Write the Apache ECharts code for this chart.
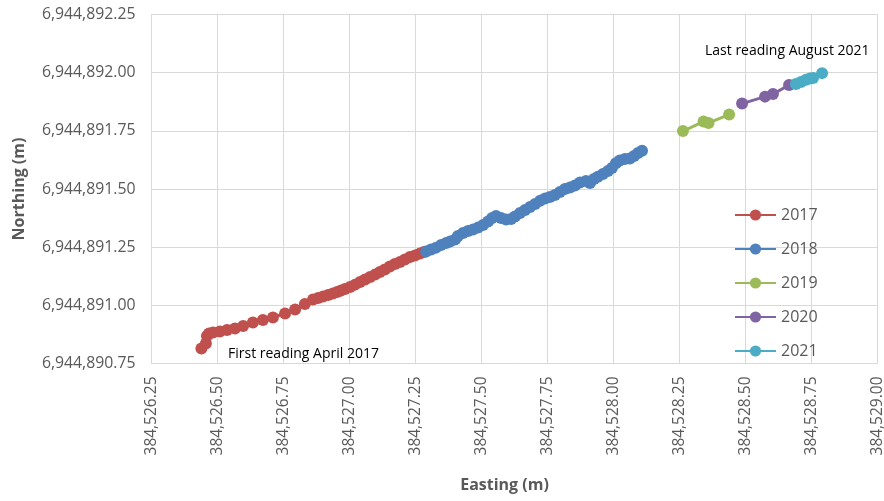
<!DOCTYPE html>
<html>
<head>
<meta charset="utf-8">
<script src="https://cdn.jsdelivr.net/npm/echarts@6/dist/echarts.min.js"></script>
<style>html,body{margin:0;padding:0;background:#fff}#c{width:884px;height:501px}</style>
</head>
<body>
<div id="c"></div>
<script>
// Easting (m) / Northing (m) per year
var e2017 = [384526.439, 384526.456, 384526.460, 384526.468, 384526.483, 384526.509, 384526.536, 384526.566, 384526.597, 384526.634, 384526.672, 384526.710, 384526.756, 384526.794, 384526.831, 384526.862, 384526.881, 384526.900, 384526.919, 384526.937, 384526.953, 384526.968, 384526.983, 384527.002, 384527.021, 384527.040, 384527.059, 384527.078, 384527.097, 384527.115, 384527.134, 384527.153, 384527.172, 384527.191, 384527.210, 384527.229, 384527.248, 384527.267, 384527.282];
var n2017 = [6944890.814, 6944890.836, 6944890.868, 6944890.879, 6944890.883, 6944890.888, 6944890.894, 6944890.900, 6944890.911, 6944890.926, 6944890.937, 6944890.948, 6944890.965, 6944890.982, 6944891.006, 6944891.025, 6944891.031, 6944891.038, 6944891.044, 6944891.051, 6944891.057, 6944891.064, 6944891.070, 6944891.079, 6944891.089, 6944891.100, 6944891.111, 6944891.122, 6944891.132, 6944891.143, 6944891.154, 6944891.167, 6944891.178, 6944891.186, 6944891.197, 6944891.208, 6944891.214, 6944891.223, 6944891.229];

var e2018 = [384527.290, 384527.309, 384527.328, 384527.347, 384527.366, 384527.381, 384527.400, 384527.411, 384527.430, 384527.449, 384527.468, 384527.487, 384527.506, 384527.525, 384527.540, 384527.555, 384527.574, 384527.593, 384527.612, 384527.627, 384527.646, 384527.665, 384527.684, 384527.703, 384527.722, 384527.741, 384527.759, 384527.778, 384527.797, 384527.816, 384527.835, 384527.854, 384527.873, 384527.896, 384527.911, 384527.926, 384527.941, 384527.960, 384527.979, 384527.994, 384528.009, 384528.024, 384528.043, 384528.062, 384528.078, 384528.093, 384528.108];
var n2018 = [6944891.231, 6944891.240, 6944891.248, 6944891.259, 6944891.268, 6944891.274, 6944891.283, 6944891.298, 6944891.311, 6944891.319, 6944891.326, 6944891.334, 6944891.345, 6944891.360, 6944891.375, 6944891.384, 6944891.375, 6944891.369, 6944891.371, 6944891.382, 6944891.397, 6944891.410, 6944891.423, 6944891.436, 6944891.450, 6944891.459, 6944891.466, 6944891.474, 6944891.487, 6944891.500, 6944891.506, 6944891.515, 6944891.528, 6944891.534, 6944891.526, 6944891.543, 6944891.553, 6944891.564, 6944891.577, 6944891.590, 6944891.611, 6944891.622, 6944891.629, 6944891.631, 6944891.642, 6944891.655, 6944891.664];

var e2019 = [384528.263, 384528.341, 384528.360, 384528.438];
var n2019 = [6944891.749, 6944891.790, 6944891.784, 6944891.820];

var e2020 = [384528.487, 384528.574, 384528.604, 384528.665];
var n2020 = [6944891.867, 6944891.897, 6944891.908, 6944891.947];

var e2021 = [384528.691, 384528.710, 384528.729, 384528.744, 384528.756, 384528.790];
var n2021 = [6944891.951, 6944891.960, 6944891.970, 6944891.975, 6944891.977, 6944891.998];

var years = ['2017', '2018', '2019', '2020', '2021'];
var colors = ['#C0504D', '#4F81BD', '#9BBB59', '#8064A2', '#4BACC6'];
var eastings = [e2017, e2018, e2019, e2020, e2021];
var northings = [n2017, n2018, n2019, n2020, n2021];

var xMin = 384526.25, xMax = 384529.00, xStep = 0.25;
var yMin = 6944890.75, yMax = 6944892.25, yStep = 0.25;

var xTitle = 'Easting (m)';
var yTitle = 'Northing (m)';
var noteFirst = 'First reading April 2017';
var noteLast = 'Last reading August 2021';

function fmt(v) {
  return Number(v).toFixed(2).replace(/\B(?=(\d{3})+(?!\d))/g, ',');
}

var FONT = '"Open Sans", "Noto Sans", sans-serif';

var series = years.map(function (y, i) {
  return {
    name: y,
    type: 'line',
    symbol: 'circle',
    symbolSize: 12,
    showSymbol: true,
    color: colors[i],
    lineStyle: { width: 3, color: colors[i] },
    itemStyle: { color: colors[i] },
    data: eastings[i].map(function (e, k) { return [e, northings[i][k]]; }),
    animation: false,
    z: 2 + i
  };
});

var chart = echarts.init(document.getElementById('c'), null, { renderer: 'canvas' });
chart.setOption({
  animation: false,
  backgroundColor: '#fff',
  grid: { left: 151.5, right: 6.5, top: 14.5, bottom: 137.5, containLabel: false, outerBoundsMode: 'none' },
  legend: {
    orient: 'vertical',
    left: 729, top: 202,
    itemWidth: 41, itemHeight: 14, itemGap: 18,
    data: years,
    textStyle: { fontFamily: FONT, fontSize: 16, color: '#595959' }
  },
  xAxis: {
    type: 'value',
    min: xMin, max: xMax, interval: xStep,
    name: xTitle,
    nameLocation: 'middle',
    nameGap: 114,
    nameTextStyle: { fontFamily: FONT, fontSize: 16, fontWeight: 'bold', color: '#595959', padding: [0, 20, 0, 0] },
    axisLine: { show: true, lineStyle: { color: '#D9D9D9', width: 1 } },
    axisTick: { show: false },
    splitLine: { show: true, lineStyle: { color: '#D9D9D9', width: 1 } },
    axisLabel: { rotate: 90, margin: 13, fontFamily: FONT, fontSize: 15.5, color: '#595959', formatter: fmt }
  },
  yAxis: {
    type: 'value',
    min: yMin, max: yMax, interval: yStep,
    name: yTitle,
    nameLocation: 'middle',
    nameGap: 124,
    nameRotate: 90,
    nameTextStyle: { fontFamily: FONT, fontSize: 16, fontWeight: 'bold', color: '#595959' },
    axisLine: { show: true, lineStyle: { color: '#D9D9D9', width: 1 } },
    axisTick: { show: false },
    splitLine: { show: true, lineStyle: { color: '#D9D9D9', width: 1 } },
    axisLabel: { margin: 16, fontFamily: FONT, fontSize: 15.8, color: '#595959', formatter: fmt }
  },
  graphic: [
    { type: 'text', left: 228, top: 347, style: { text: noteFirst, font: '14px ' + FONT, fill: '#000' }, z: 100 },
    { type: 'text', left: 705, top: 44, style: { text: noteLast, font: '14px ' + FONT, fill: '#000' }, z: 100 }
  ],
  series: series
});
</script>
</body>
</html>
